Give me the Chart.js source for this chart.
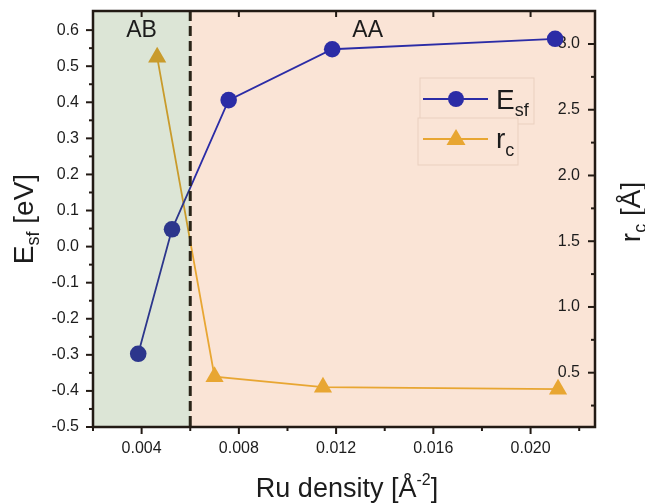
<!DOCTYPE html>
<html lang="en">
<head>
<meta charset="UTF-8">
<title>Stacking fault energy and r_c vs Ru density</title>
<style>
  body { margin: 0; background: #fff; }
  #chart { display: block; }
</style>
</head>
<body>
<canvas id="chart" width="645" height="504"></canvas>
<script src="https://cdn.jsdelivr.net/npm/chart.js"></script>
<script>
// E_sf series (left axis, eV)
const esfDensity = [0.00386, 0.00525, 0.00758, 0.01184, 0.02101];
const esfValues = [-0.297, 0.048, 0.406, 0.547, 0.576];

// r_c series (right axis, Å)
const rcDensity = [0.00464, 0.00700, 0.01146, 0.02113];
const rcValues = [2.90, 0.47, 0.39, 0.375];

// axis ticks
const xTicks = [0.004, 0.008, 0.012, 0.016, 0.020];
const xMinorTicks = [0.002, 0.006, 0.010, 0.014, 0.018, 0.022];
const yTicks = [-0.5, -0.4, -0.3, -0.2, -0.1, 0.0, 0.1, 0.2, 0.3, 0.4, 0.5, 0.6];
const y2Ticks = [0.5, 1.0, 1.5, 2.0, 2.5, 3.0];
const y2MinorTicks = [0.25, 0.75, 1.25, 1.75, 2.25, 2.75];

// stacking regions
const regionSplit = 0.006;
const regionNames = ['AB', 'AA'];
const regionLabelX = [0.004, 0.0133];

const FONT = '"Liberation Sans", Arial, sans-serif';
const INK = '#1c1c1c';
const BLUE = '#2b2ca6';
const ORANGE = '#e8a632';

function drawRich(ctx, parts, x, y, center) {
  let w = 0;
  parts.forEach(p => { ctx.font = p.size + 'px ' + FONT; w += ctx.measureText(p.t).width; });
  let cx = center ? x - w / 2 : x;
  parts.forEach(p => {
    ctx.font = p.size + 'px ' + FONT;
    ctx.fillText(p.t, cx, y + (p.dy || 0));
    cx += ctx.measureText(p.t).width;
  });
}

// exact plot box: drop the label overhang padding Chart.js adds
function fixBox(size) {
  return s => {
    Object.assign(s, size);
    s.paddingTop = s.paddingBottom = s.paddingLeft = s.paddingRight = 0;
  };
}

const decor = {
  id: 'decor',
  beforeDraw(chart) {
    const {ctx, chartArea: a, scales: {x}} = chart;
    const split = x.getPixelForValue(regionSplit);
    ctx.save();
    ctx.fillStyle = '#fae4d6';
    ctx.fillRect(split, a.top, a.right - split, a.bottom - a.top);
    ctx.restore();
  },
  beforeDatasetsDraw(chart) {
    const {ctx, chartArea: a, scales: {y2}} = chart;
    ctx.save();
    // right axis labels sit inside the plot
    ctx.fillStyle = INK;
    ctx.font = '16px ' + FONT;
    ctx.textAlign = 'right';
    ctx.textBaseline = 'middle';
    y2Ticks.forEach(v => ctx.fillText(v.toFixed(1), a.right - 15, y2.getPixelForValue(v)));
    ctx.restore();
  },
  afterDatasetsDraw(chart) {
    const {ctx, chartArea: a, scales: {x}} = chart;
    const split = x.getPixelForValue(regionSplit);
    ctx.save();
    // translucent green shade over the AB region
    ctx.fillStyle = 'rgba(54, 106, 20, 0.174)';
    ctx.fillRect(a.left, a.top, split - a.left, a.bottom - a.top);

    ctx.strokeStyle = '#2a2418';
    ctx.lineWidth = 3;
    ctx.setLineDash([10, 5]);
    ctx.beginPath();
    ctx.moveTo(split, a.top);
    ctx.lineTo(split, a.bottom);
    ctx.stroke();
    ctx.setLineDash([]);
    ctx.fillStyle = INK;
    ctx.textAlign = 'center';
    ctx.textBaseline = 'alphabetic';
    ctx.font = '23px ' + FONT;
    regionNames.forEach((n, i) => ctx.fillText(n, x.getPixelForValue(regionLabelX[i]), a.top + 26));
    ctx.restore();
  },
  afterDraw(chart) {
    const {ctx, chartArea: a, scales: {x, y, y2}} = chart;
    ctx.save();
    ctx.strokeStyle = '#221a14';
    ctx.lineCap = 'butt';

    // tick marks
    ctx.lineWidth = 2;
    const tick = (x0, y0, x1, y1) => { ctx.beginPath(); ctx.moveTo(x0, y0); ctx.lineTo(x1, y1); ctx.stroke(); };
    yTicks.forEach(v => { const p = y.getPixelForValue(v); tick(a.left, p, a.left - 7, p); });
    yTicks.slice(0, -1).forEach((v, i) => {
      const p = y.getPixelForValue((v + yTicks[i + 1]) / 2); tick(a.left, p, a.left - 4, p);
    });
    xTicks.forEach(v => {
      const p = x.getPixelForValue(v);
      tick(p, a.bottom, p, a.bottom + 7);
      tick(p, a.top, p, a.top + 6);
    });
    xMinorTicks.forEach(v => { const p = x.getPixelForValue(v); tick(p, a.bottom, p, a.bottom + 4); });
    y2Ticks.forEach(v => { const p = y2.getPixelForValue(v); tick(a.right, p, a.right - 7, p); });
    y2MinorTicks.forEach(v => { const p = y2.getPixelForValue(v); tick(a.right, p, a.right - 4, p); });

    // frame
    ctx.lineWidth = 2.5;
    ctx.strokeRect(a.left, a.top, a.right - a.left, a.bottom - a.top);

    // legend
    ctx.lineWidth = 1;
    ctx.strokeStyle = '#ead0bf';
    ctx.fillStyle = '#fae4d6';
    ctx.fillRect(a.left + 327, a.top + 67, 114, 46);
    ctx.strokeRect(a.left + 327, a.top + 67, 114, 46);
    ctx.fillRect(a.left + 325, a.top + 107, 100, 47);
    ctx.strokeRect(a.left + 325, a.top + 107, 100, 47);

    const lx0 = a.left + 330, lx1 = a.left + 395, lm = a.left + 363;
    ctx.lineWidth = 1.8;
    ctx.strokeStyle = BLUE;
    tick(lx0, a.top + 88, lx1, a.top + 88);
    ctx.fillStyle = BLUE;
    ctx.beginPath();
    ctx.arc(lm, a.top + 88, 8, 0, Math.PI * 2);
    ctx.fill();
    ctx.strokeStyle = ORANGE;
    tick(lx0, a.top + 128, lx1, a.top + 128);
    ctx.fillStyle = ORANGE;
    ctx.beginPath();
    ctx.moveTo(lm, a.top + 118);
    ctx.lineTo(lm + 9.5, a.top + 134);
    ctx.lineTo(lm - 9.5, a.top + 134);
    ctx.closePath();
    ctx.fill();

    ctx.fillStyle = INK;
    ctx.textAlign = 'left';
    ctx.textBaseline = 'alphabetic';
    drawRich(ctx, [{t: 'E', size: 28}, {t: 'sf', size: 18, dy: 7}], a.left + 403, a.top + 98, false);
    drawRich(ctx, [{t: 'r', size: 28}, {t: 'c', size: 18, dy: 8}], a.left + 403, a.top + 137, false);

    // axis titles
    drawRich(ctx, [{t: 'Ru density [Å', size: 27}, {t: '-2', size: 16, dy: -12}, {t: ']', size: 27}],
      (a.left + a.right) / 2 + 3, 497, true);

    ctx.save();
    ctx.translate(33, (a.top + a.bottom) / 2);
    ctx.rotate(-Math.PI / 2);
    drawRich(ctx, [{t: 'E', size: 28}, {t: 'sf', size: 18, dy: 6}, {t: ' [eV]', size: 28}], 0, 0, true);
    ctx.restore();

    ctx.save();
    ctx.translate(640, 212);
    ctx.rotate(-Math.PI / 2);
    drawRich(ctx, [{t: 'r', size: 28}, {t: 'c', size: 18, dy: 6}, {t: ' [Å]', size: 28}], 0, 0, true);
    ctx.restore();

    ctx.restore();
  }
};

Chart.defaults.font.family = FONT;
Chart.defaults.color = INK;

new Chart(document.getElementById('chart'), {
  type: 'scatter',
  data: {
    datasets: [{
      label: 'E_sf',
      data: esfDensity.map((d, i) => ({x: d, y: esfValues[i]})),
      yAxisID: 'y',
      showLine: true,
      borderColor: BLUE,
      backgroundColor: BLUE,
      borderWidth: 1.8,
      pointRadius: 8.3,
      pointBorderWidth: 0
    }, {
      label: 'r_c',
      data: rcDensity.map((d, i) => ({x: d, y: rcValues[i]})),
      yAxisID: 'y2',
      showLine: true,
      borderColor: ORANGE,
      backgroundColor: ORANGE,
      borderWidth: 1.8,
      pointStyle: 'triangle',
      pointRadius: 10.5,
      pointBorderWidth: 0
    }]
  },
  options: {
    responsive: false,
    animation: false,
    layout: { padding: { top: 11, left: 0, right: 0, bottom: 0 } },
    plugins: { legend: { display: false }, tooltip: { enabled: false } },
    scales: {
      x: {
        type: 'linear',
        min: 0.002,
        max: 0.02265,
        grid: { display: false, drawTicks: false },
        border: { display: false },
        afterBuildTicks: s => { s.ticks = xTicks.map(v => ({value: v})); },
        afterFit: fixBox({height: 77}),
        ticks: { font: { size: 16 }, padding: 12, maxRotation: 0, autoSkip: false,
          callback: v => v.toFixed(3) }
      },
      y: {
        position: 'left',
        min: -0.5,
        max: 0.653,
        grid: { display: false, drawTicks: false },
        border: { display: false },
        afterBuildTicks: s => { s.ticks = yTicks.map(v => ({value: v})); },
        afterFit: fixBox({width: 93}),
        ticks: { font: { size: 16 }, padding: 14, callback: v => v.toFixed(1) }
      },
      y2: {
        position: 'right',
        min: 0.087,
        max: 3.251,
        grid: { display: false, drawTicks: false },
        border: { display: false },
        afterBuildTicks: s => { s.ticks = y2Ticks.map(v => ({value: v})); },
        afterFit: fixBox({width: 50}),
        ticks: { display: false }
      }
    }
  },
  plugins: [decor]
});
</script>
</body>
</html>
